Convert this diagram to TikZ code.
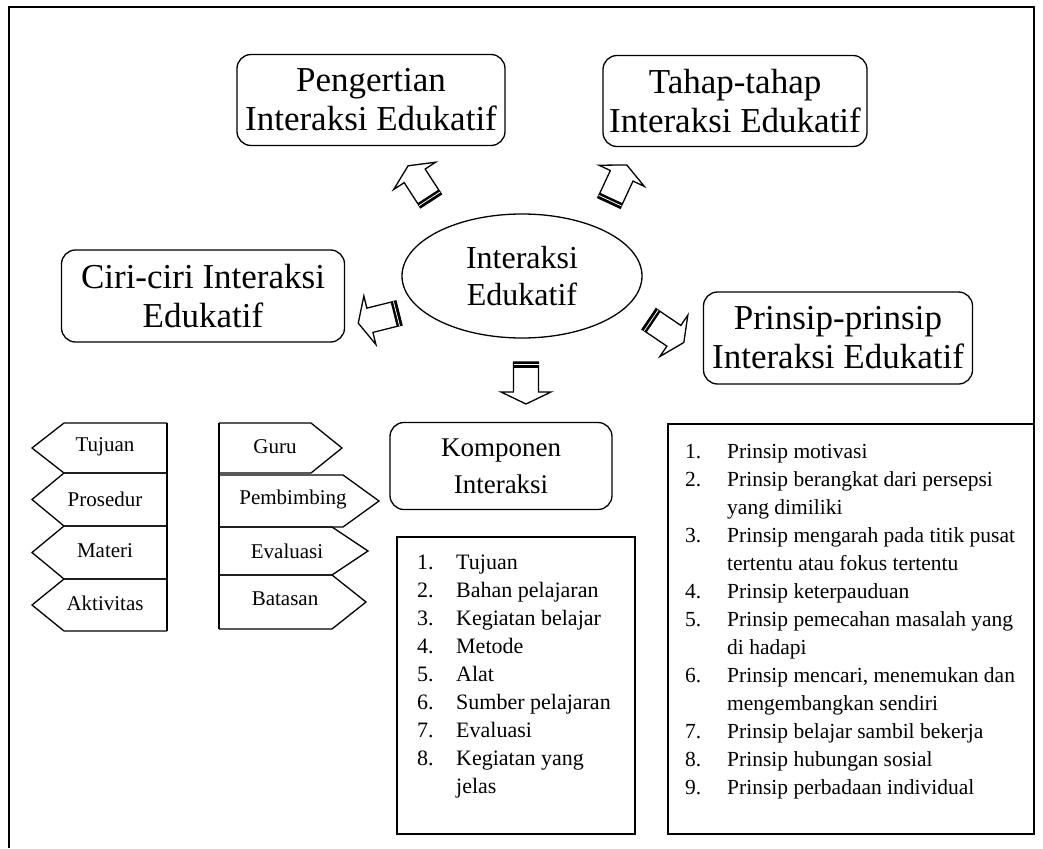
\documentclass[tikz,border=0pt]{standalone}
\usepackage{fontspec}
\setmainfont{Liberation Serif}
\usetikzlibrary{shapes.geometric}

\newcommand\boxfont{\fontsize{35}{39}\selectfont}
\newcommand\ovalfont{\fontsize{32}{37}\selectfont}
\newcommand\kompfont{\fontsize{27}{37}\selectfont}
\newcommand\tagfont{\fontsize{21}{25}\selectfont}
\newcommand\listfontA{\fontsize{22}{28}\selectfont}
\newcommand\listfontB{\fontsize{21.5}{28}\selectfont}
\newcommand\numA[1]{\makebox[39pt][l]{#1}}
\newcommand\numB[1]{\makebox[42pt][l]{#1}}

\tikzset{
  outline/.style={line width=1.3pt},
  roundbox/.style={outline, draw, rounded corners=14pt, align=center, inner sep=0pt},
  tagtext/.style={font=\tagfont, inner sep=0pt},
  listbox/.style={outline, draw},
  listtext/.style={align=left, inner sep=0pt, anchor=north west},
  % hollow block arrow pointing along +x, tail at the origin
  blockarrow/.pic={
    \draw[outline, fill=white, line join=miter]
      (0,-12.5) -- (30,-12.5) -- (30,-25) -- (42,0) -- (30,25) -- (30,12.5) -- (0,12.5) -- cycle;
    \fill (0,-12.5) rectangle (5.5,12.5);
    \draw[white, line width=0.8pt] (2.6,-12.5) -- (2.6,12.5);
  }
}

\begin{document}
\begin{tikzpicture}[x=1pt, y=-1pt]
\useasboundingbox (0,0) rectangle (1043,848);

% page frame (open at the bottom)
\draw[line width=1.6pt] (9,848) -- (9,7) -- (1034,7) -- (1034,834);

% central oval
\node[ellipse, draw, outline, minimum width=240, minimum height=124, align=center,
      font=\ovalfont, inner sep=0pt] (core) at (522,276) {Interaksi\\Edukatif};

% main topic boxes
\node[roundbox, minimum width=268, minimum height=91, font=\boxfont] (peng) at (371,100)
  {Pengertian\\Interaksi Edukatif};
\node[roundbox, minimum width=264, minimum height=91, font=\boxfont] (tahap) at (735,101)
  {Tahap-tahap\\Interaksi Edukatif};
\node[roundbox, minimum width=283, minimum height=92, font=\boxfont] (ciri) at (203,296)
  {Ciri-ciri Interaksi\\Edukatif};
\node[roundbox, minimum width=269, minimum height=92, font=\boxfont] (prin) at (838,338)
  {Prinsip-prinsip\\Interaksi Edukatif};
\node[roundbox, minimum width=222, minimum height=87, font=\kompfont] (komp) at (501,466)
  {Komponen\\Interaksi};

% block arrows from the oval to each box
\coordinate (tPeng) at (431,201);
\coordinate (tTahap) at (609,203);
\coordinate (tCiri) at (399,313);
\coordinate (tPrin) at (649,319);
\coordinate (tKomp) at (526,362);
\pic[rotate=123] at (tPeng) {blockarrow};
\pic[rotate=65] at (tTahap) {blockarrow};
\pic[rotate=194] at (tCiri) {blockarrow};
\pic[rotate=-34] at (tPrin) {blockarrow};
\pic[rotate=-90] at (tKomp) {blockarrow};

% left column of tags, pointing left
\draw[outline, line join=miter] (167,423) -- (64,423) -- (32,448) -- (64,473) -- (167,473);
\draw[outline, line join=miter] (167,473) -- (64,473) -- (32,499.5) -- (64,526) -- (167,526);
\draw[outline, line join=miter] (167,526) -- (64,526) -- (32,552.5) -- (64,579) -- (167,579);
\draw[outline, line join=miter] (167,579) -- (64,579) -- (32,605) -- (64,631) -- (167,631);
\draw[outline] (167,423) -- (167,631);
\node[tagtext] (tujuan) at (105,447) {Tujuan};
\node[tagtext] (prosedur) at (105,499) {Prosedur};
\node[tagtext] (materi) at (105,551) {Materi};
\node[tagtext] (aktivitas) at (105,603) {Aktivitas};

% right column of tags, pointing right
\draw[outline, line join=miter] (219,423) -- (311,423) -- (342,448) -- (311,473) -- (219,473);
\draw[outline, line join=miter] (219,475) -- (343,475) -- (379,501) -- (343,527) -- (219,527);
\draw[outline, line join=miter] (219,527) -- (332,527) -- (368,551) -- (332,575) -- (219,575);
\draw[outline, line join=miter] (219,575) -- (332,575) -- (366,602) -- (332,629) -- (219,629);
\draw[outline] (219,423) -- (219,629);
\node[tagtext] (guru) at (275,447) {Guru};
\node[tagtext] (pemb) at (293,499) {Pembimbing};
\node[tagtext] (eval) at (287,551) {Evaluasi};
\node[tagtext] (batas) at (285,599) {Batasan};

% list of components
\draw[listbox] (397,537) rectangle (635,834);
\node[listtext, font=\listfontA] (kompList) at (417,555) {%
  \numA{1.}Tujuan\\
  \numA{2.}Bahan pelajaran\\
  \numA{3.}Kegiatan belajar\\
  \numA{4.}Metode\\
  \numA{5.}Alat\\
  \numA{6.}Sumber pelajaran\\
  \numA{7.}Evaluasi\\
  \numA{8.}Kegiatan yang\\
  \hspace*{39pt}jelas};

% list of principles
\draw[listbox] (668,424) rectangle (1034,834);
\node[listtext, font=\listfontB] (prinList) at (685,444) {%
  \numB{1.}Prinsip motivasi\\
  \numB{2.}Prinsip berangkat dari persepsi\\
  \hspace*{42pt}yang dimiliki\\
  \numB{3.}Prinsip mengarah pada titik pusat\\
  \hspace*{42pt}tertentu atau fokus tertentu\\
  \numB{4.}Prinsip keterpauduan\\
  \numB{5.}Prinsip pemecahan masalah yang\\
  \hspace*{42pt}di hadapi\\
  \numB{6.}Prinsip mencari, menemukan dan\\
  \hspace*{42pt}mengembangkan sendiri\\
  \numB{7.}Prinsip belajar sambil bekerja\\
  \numB{8.}Prinsip hubungan sosial\\
  \numB{9.}Prinsip perbadaan individual};
\end{tikzpicture}
\end{document}
